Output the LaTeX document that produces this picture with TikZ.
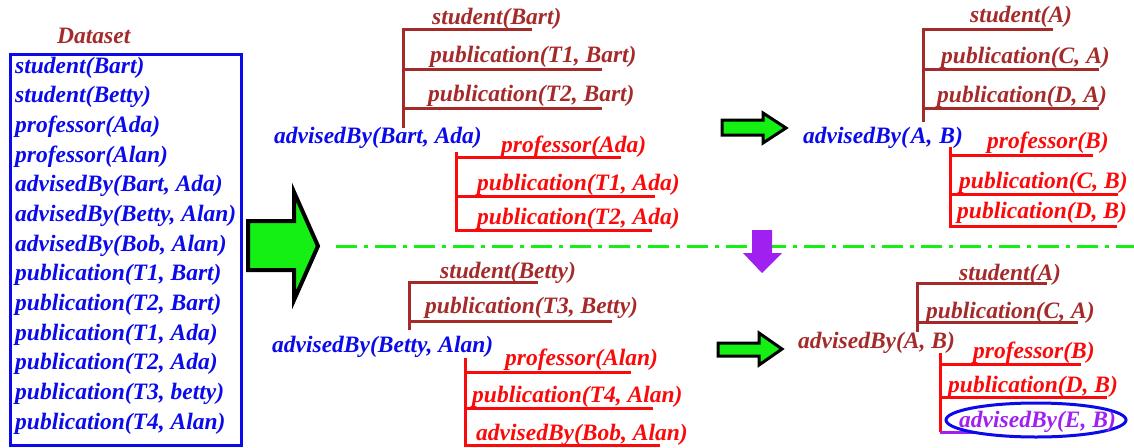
\documentclass[tikz,border=0pt]{standalone}
\usepackage{fontspec}
\setmainfont{Liberation Serif}
\usetikzlibrary{shapes.geometric}
\definecolor{dblue}{RGB}{10,10,235}
\definecolor{dbrown}{RGB}{165,42,42}
\definecolor{dred}{RGB}{250,10,10}
\definecolor{dpurple}{RGB}{160,32,240}
\definecolor{agreen}{RGB}{20,240,20}
\begin{document}
\begin{tikzpicture}[x=1pt,y=-1pt,
  txt/.style={anchor=base west,inner sep=0pt,font=\fontsize{23.5}{28}\selectfont\bfseries\itshape},
  brl/.style={draw=dbrown,line width=3pt},
  rdl/.style={draw=dred,line width=3pt},
  garrow/.style={fill=agreen,draw=black,line width=3pt,line join=miter},
  parrow/.style={fill=dpurple,draw=none}]
\useasboundingbox (0,0) rectangle (1134,447);

% Dataset box
\node[txt,dbrown] (title) at (57,43) {Dataset};
\node[draw=dblue,line width=3pt,minimum width=231pt,minimum height=391pt,anchor=north west,inner sep=0pt] (box) at (9,53) {};
\foreach \t [count=\i] in {{student(Bart)},{student(Betty)},{professor(Ada)},{professor(Alan)},{advisedBy(Bart, Ada)},{advisedBy(Betty, Alan)},{advisedBy(Bob, Alan)},{publication(T1, Bart)},{publication(T2, Bart)},{publication(T1, Ada)},{publication(T2, Ada)},{publication(T3, betty)},{publication(T4, Alan)}}
  \node[txt,dblue] (d\i) at (15,{73+29.67*(\i-1)}) {\t};

% big arrow
\draw[garrow,line width=4pt] (248,221) -- (294,221) -- (294,192) -- (318,246) -- (294,300) -- (294,270) -- (248,270) -- cycle;

% separator
\coordinate (sepL) at (336,246);
\coordinate (sepR) at (1134,246);
\draw[agreen,line width=3pt,dash pattern=on 21pt off 7pt on 4pt off 7pt] (sepL) -- (sepR);

% ---- tree 1 (Bart)
\node[txt,dblue] (m1) at (274,143) {advisedBy(Bart, Ada)};
\draw[brl] (403,128) -- (403,29) -- (532,29);
\draw[brl] (403,69) -- (602,69);
\draw[brl] (403,108) -- (602,108);
\node[txt,dbrown] (m1a) at (432,24) {student(Bart)};
\node[txt,dbrown] (m1b) at (430,62) {publication(T1, Bart)};
\node[txt,dbrown] (m1c) at (428,101) {publication(T2, Bart)};
\draw[rdl] (456,152) -- (456,230) -- (652,230);
\draw[rdl] (456,157) -- (621,157);
\draw[rdl] (456,196) -- (655,196);
\node[txt,dred] (m1d) at (501,152) {professor(Ada)};
\node[txt,dred] (m1e) at (477,190) {publication(T1, Ada)};
\node[txt,dred] (m1f) at (477,224) {publication(T2, Ada)};

% ---- tree 2 (generalised, top)
\draw[garrow] (722,120) -- (763,120) -- (763,113) -- (786,128) -- (763,143) -- (763,135) -- (722,135) -- cycle;
\node[txt,dblue] (m2) at (803,143) {advisedBy(\hspace{2pt}A,\hspace{7pt}B)};
\draw[brl] (923,122) -- (923,29) -- (1053,29);
\draw[brl] (923,69) -- (1099,69);
\draw[brl] (923,108) -- (1099,108);
\node[txt,dbrown] (m2a) at (970,22) {student(A)};
\node[txt,dbrown] (m2b) at (941,63) {publication(C,\hspace{6pt}A)};
\node[txt,dbrown] (m2c) at (937,102) {publication(D,\hspace{6pt}A)};
\draw[rdl] (950,147) -- (950,226) -- (1117,226);
\draw[rdl] (950,155) -- (1093,155);
\draw[rdl] (950,194) -- (1118,194);
\node[txt,dred] (m2d) at (987,148) {professor(B)};
\node[txt,dred] (m2e) at (959,188) {publication(C, B)};
\node[txt,dred] (m2f) at (957,218) {publication(D, B)};

% purple down arrow
\fill[parrow] (752,230) -- (772,230) -- (772,253) -- (782,253) -- (762,273) -- (743,253) -- (752,253) -- cycle;

% ---- tree 3 (Betty)
\node[txt,dblue] (m3) at (272,352) {advisedBy(Betty, Alan)};
\draw[brl] (409,330) -- (409,282) -- (538,282);
\draw[brl] (409,321) -- (612,321);
\node[txt,dbrown] (m3a) at (440,278) {student(Betty)};
\node[txt,dbrown] (m3b) at (425,313) {publication(T3, Betty)};
\draw[rdl] (465,358) -- (465,445) -- (660,445);
\draw[rdl] (465,372) -- (631,372);
\draw[rdl] (465,408) -- (653,408);
\node[txt,dred] (m3c) at (505,365) {professor(Alan)};
\node[txt,dred] (m3d) at (472,402) {publication(T4, Alan)};
\node[txt,dred] (m3e) at (476,440) {advisedBy(Bob, Alan)};

% ---- tree 4 (generalised, bottom)
\draw[garrow] (718,343) -- (759,343) -- (759,333) -- (782,349) -- (759,365) -- (759,356) -- (718,356) -- cycle;
\node[txt,dbrown] (m4) at (798,348) {advisedBy(A, B)};
\draw[brl] (917,332) -- (917,283) -- (1047,283);
\draw[brl] (917,322) -- (1078,322);
\node[txt,dbrown] (m4a) at (959,280) {student(A)};
\node[txt,dbrown] (m4b) at (926,318) {publication(C, A)};
\draw[rdl] (940,353) -- (940,432);
\draw[rdl] (940,364) -- (1081,364);
\draw[rdl] (940,397) -- (1107,397);
\draw[draw=dpurple,line width=3pt] (940,432) -- (990,432);
\node[txt,dred] (m4c) at (973,358) {professor(B)};
\node[txt,dred] (m4d) at (948,392) {publication(D, B)};
\node[ellipse,draw=dblue,fill=white,line width=3pt,minimum width=180pt,minimum height=34pt,inner sep=0pt] (ell) at (1036,420) {};
\node[txt,dpurple] (m4e) at (959,427) {advisedBy(E, B)};
\end{tikzpicture}
\end{document}
